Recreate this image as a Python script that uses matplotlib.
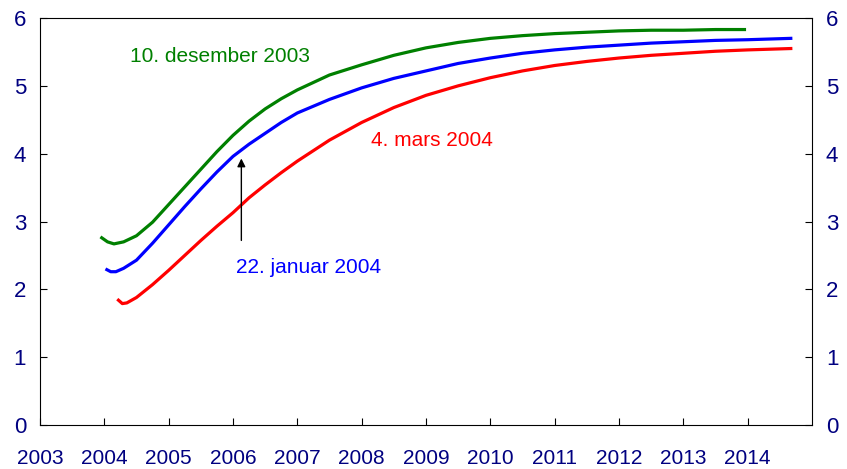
import matplotlib.pyplot as plt

plt.rcParams['font.family'] = ['Liberation Sans', 'DejaVu Sans']

# 10. desember 2003
x_des = [2003.96, 2004.05, 2004.15, 2004.3, 2004.5, 2004.75, 2005.0, 2005.25, 2005.5, 2005.75, 2006.0,
         2006.25, 2006.5, 2006.75, 2007.0, 2007.5, 2008.0, 2008.5, 2009.0, 2009.5, 2010.0, 2010.5,
         2011.0, 2011.5, 2012.0, 2012.5, 2013.0, 2013.5, 2013.95]
y_des = [2.76, 2.70, 2.67, 2.70, 2.79, 2.99, 3.25, 3.51, 3.77, 4.03, 4.27,
         4.48, 4.66, 4.81, 4.94, 5.16, 5.31, 5.45, 5.56, 5.64, 5.70, 5.74,
         5.77, 5.79, 5.81, 5.82, 5.82, 5.83, 5.83]

# 22. januar 2004
x_jan = [2004.04, 2004.1, 2004.18, 2004.3, 2004.5, 2004.75, 2005.0, 2005.25, 2005.5, 2005.75, 2006.0,
         2006.25, 2006.5, 2006.75, 2007.0, 2007.5, 2008.0, 2008.5, 2009.0, 2009.5, 2010.0, 2010.5,
         2011.0, 2011.5, 2012.0, 2012.5, 2013.0, 2013.5, 2014.0, 2014.67]
y_jan = [2.29, 2.26, 2.26, 2.31, 2.43, 2.68, 2.95, 3.22, 3.48, 3.73, 3.96,
         4.14, 4.30, 4.46, 4.60, 4.80, 4.97, 5.11, 5.22, 5.33, 5.41, 5.48,
         5.53, 5.57, 5.60, 5.63, 5.65, 5.67, 5.68, 5.70]

# 4. mars 2004
x_mar = [2004.22, 2004.28, 2004.35, 2004.5, 2004.75, 2005.0, 2005.25, 2005.5, 2005.75, 2006.0,
         2006.25, 2006.5, 2006.75, 2007.0, 2007.5, 2008.0, 2008.5, 2009.0, 2009.5, 2010.0, 2010.5,
         2011.0, 2011.5, 2012.0, 2012.5, 2013.0, 2013.5, 2014.0, 2014.67]
y_mar = [1.84, 1.79, 1.80, 1.88, 2.07, 2.28, 2.50, 2.72, 2.93, 3.13,
         3.35, 3.54, 3.72, 3.89, 4.20, 4.46, 4.68, 4.86, 5.00, 5.12, 5.22,
         5.30, 5.36, 5.41, 5.45, 5.48, 5.51, 5.53, 5.55]

years = list(range(2003, 2015))
yticks = [0, 1, 2, 3, 4, 5, 6]
navy = '#000080'

fig = plt.figure(figsize=(8.47, 4.69), dpi=100)
ax = fig.add_axes([0.0472, 0.0938, 0.9115, 0.8678])

ax.plot(x_des, y_des, color='#008000', lw=2.3)
ax.plot(x_jan, y_jan, color='#0000ff', lw=2.3)
ax.plot(x_mar, y_mar, color='#ff0000', lw=2.3)

ax.set_xlim(2003, 2015)
ax.set_ylim(0, 6)
ax.set_xticks(years)
ax.set_yticks(yticks)
ax.tick_params(axis='x', direction='in', length=5, pad=17, labelsize=15, labelcolor=navy)
ax.tick_params(axis='y', direction='in', length=5, pad=10, labelsize=16, labelcolor=navy,
               right=True, labelright=True)

ax.text(2004.4, 5.43, '10. desember 2003', color='#008000', fontsize=15, va='center')
ax.text(2008.15, 4.2, '4. mars 2004', color='#ff0000', fontsize=15, va='center')
ax.text(2006.05, 2.32, '22. januar 2004', color='#0000ff', fontsize=15, va='center')
ax.annotate('', xy=(2006.13, 3.97), xytext=(2006.13, 2.68),
            arrowprops=dict(arrowstyle='-|>', color='black', lw=1, mutation_scale=12))

fig.savefig('out.png')
